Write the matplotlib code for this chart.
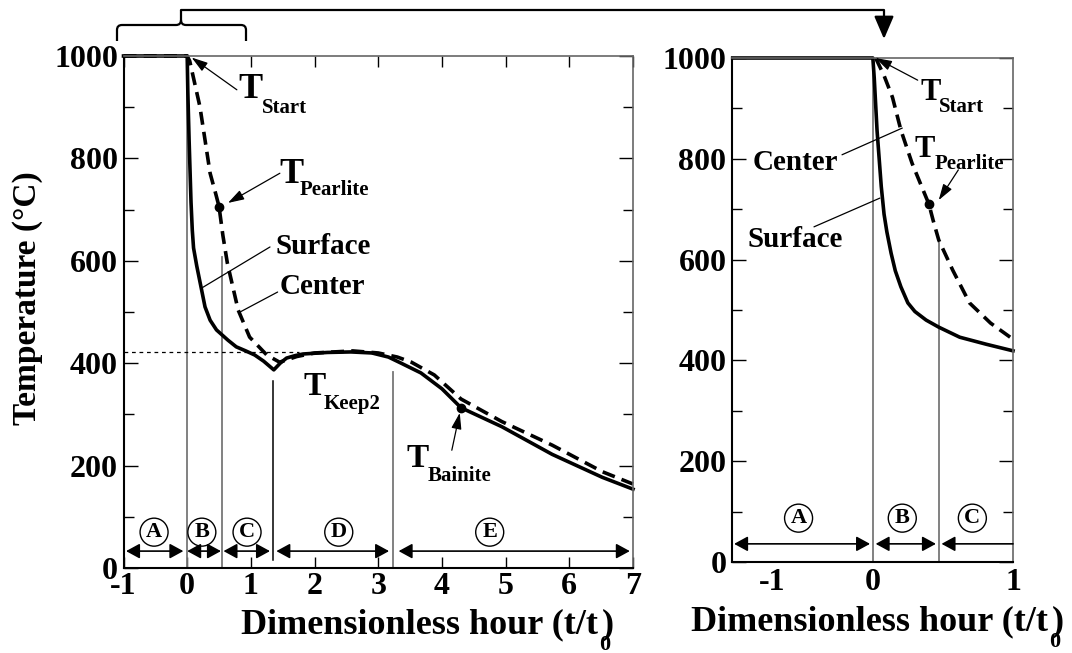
import matplotlib
matplotlib.use("Agg")
import matplotlib.pyplot as plt
from matplotlib.path import Path
from matplotlib.patches import FancyArrowPatch, PathPatch
from matplotlib.ticker import MultipleLocator

plt.rcParams["font.family"] = ["Liberation Serif", "DejaVu Serif"]
plt.rcParams["font.weight"] = "bold"
plt.rcParams["axes.labelweight"] = "bold"
plt.rcParams["axes.unicode_minus"] = False

# ---- left panel: whole schedule ----
full_t_surface = [-1, 0, 0.01, 0.03, 0.06, 0.08, 0.1, 0.15, 0.22, 0.28, 0.36, 0.46, 0.64,
                  0.77, 0.92, 1.06, 1.2, 1.36, 1.46, 1.56, 1.7, 1.82, 2.2, 2.57, 2.9,
                  3.16, 3.36, 3.67, 4.0, 4.3, 4.94, 5.73, 6.52, 7.0]
full_T_surface = [1000, 1000, 930, 836, 715, 660, 625, 590, 547, 510, 484, 465, 445,
                  432, 424, 416, 404, 387, 400, 410, 415, 418, 421, 422, 420,
                  412, 400, 381, 350, 313, 276, 222, 177, 154]
full_t_center = [-1, 0, 0.04, 0.2, 0.36, 0.45, 0.5, 0.56, 0.63, 0.8, 0.98, 1.25, 1.45,
                 1.6, 1.72, 2.0, 2.6, 3.0, 3.3, 3.52, 3.88, 4.3, 4.94, 5.73, 6.52, 7.0]
full_T_center = [1000, 1000, 990, 901, 771, 730, 706, 650, 596, 504, 451, 416, 402,
                 408, 413, 420, 424, 420, 412, 402, 377, 330, 286, 240, 188, 164]
keep_T = 422
keep_line_end = 1.75
full_bounds = [0.545, 1.35, 3.23]
full_bound_low = [0, 15, 0]
full_bound_high = [608, 365, 383]
full_stages = ["A", "B", "C", "D", "E"]
full_stage_x = [-0.52, 0.23, 0.94, 2.38, 4.75]
full_stage_from = [-0.96, 0.0, 0.57, 1.4, 3.32]
full_stage_to = [-0.06, 0.53, 1.3, 3.17, 6.95]
pearlite_pt = (0.5, 706)
bainite_pt = (4.3, 312)

# ---- right panel: close-up of the start ----
zoom_t_surface = [-1, 0, 0.01, 0.03, 0.06, 0.08, 0.1, 0.13, 0.16, 0.2, 0.25, 0.3, 0.38,
                  0.47, 0.62, 0.81, 1.0]
zoom_T_surface = [1000, 1000, 960, 856, 745, 690, 655, 613, 578, 546, 514, 497, 480,
                  466, 446, 432, 419]
zoom_t_center = [0.02, 0.08, 0.14, 0.2, 0.28, 0.4, 0.43, 0.47, 0.57, 0.69, 0.84, 1.0]
zoom_T_center = [1000, 965, 922, 857, 791, 710, 678, 639, 579, 514, 474, 442]
zoom_bound = 0.47
zoom_bound_high = 633
zoom_stages = ["A", "B", "C"]
zoom_stage_x = [-0.53, 0.21, 0.71]
zoom_stage_from = [-0.99, 0.02, 0.49]
zoom_stage_to = [-0.02, 0.45, 1.0]
zoom_pearlite_pt = (0.4, 710)
zoom_xticks = [-0.72, 0, 1]
zoom_xticklabels = ["-1", "0", "1"]

W, H = 1072, 653
fig = plt.figure(figsize=(W / 100, H / 100), dpi=100)
ax = fig.add_axes([123.5 / W, 1 - 568 / H, 509.5 / W, 512 / H])
ax2 = fig.add_axes([732 / W, 1 - 562 / H, 281 / W, 504 / H])

DASH = (3.6, 2.0)
TICK_SIZE = 23


def style_axes(a):
    for side in ["left", "bottom"]:
        a.spines[side].set_linewidth(1.5)
    for side in ["top", "right"]:
        a.spines[side].set_linewidth(1.2)
        a.spines[side].set_color("#666666")
    a.set_ylim(0, 1000)
    a.yaxis.set_major_locator(MultipleLocator(200))
    a.yaxis.set_minor_locator(MultipleLocator(100))
    a.tick_params(axis="y", which="major", direction="in", length=10, width=1,
                  left=True, right=True, labelsize=TICK_SIZE, pad=4)
    a.tick_params(axis="y", which="minor", direction="in", length=7, width=1,
                  left=True, right=True)


def t_label(a, x, y, sub, size=26, sub_size=15, dx=17, dy=-10):
    a.text(x, y, "T", fontsize=size, ha="left", va="baseline")
    a.annotate(sub, xy=(x, y), xytext=(dx, dy), textcoords="offset points",
               fontsize=sub_size, ha="left", va="baseline")


def pointer(a, start, end, head=True):
    style = "-|>,head_length=0.7,head_width=0.22" if head else "-"
    a.annotate("", xy=end, xytext=start,
               arrowprops=dict(arrowstyle=style, lw=0.9, color="black",
                               mutation_scale=14, shrinkA=0, shrinkB=0))


def stages(a, names, xs, x0s, x1s, y_text=70, y_arrow=33, open_end=False):
    for i, (n, x, x0, x1) in enumerate(zip(names, xs, x0s, x1s)):
        a.text(x, y_text, n, fontsize=16, ha="center", va="center",
               bbox=dict(boxstyle="circle,pad=0.18", fc="white", ec="black", lw=1.0))
        style = "<|-|>,head_length=0.55,head_width=0.3"
        if open_end and i == len(names) - 1:
            style = "<|-,head_length=0.55,head_width=0.3"
        a.annotate("", xy=(x1, y_arrow), xytext=(x0, y_arrow),
                   arrowprops=dict(arrowstyle=style, lw=1.2, color="black",
                                   mutation_scale=15, shrinkA=0, shrinkB=0))


def hour_label(x_end, y_base, size=26):
    # "t/t" with a deep subscript 0 under the closing bracket
    fig.text(x_end / W, 1 - y_base / H, "Dimensionless hour (t/t", fontsize=size,
             ha="right", va="baseline")
    fig.text((x_end + 1) / W, 1 - (y_base + 17) / H, "0", fontsize=16,
             ha="left", va="baseline")
    fig.text((x_end + 4) / W, 1 - y_base / H, ")", fontsize=size,
             ha="left", va="baseline")


# ---------------- left panel ----------------
style_axes(ax)
ax.set_xlim(-1, 7)
ax.xaxis.set_major_locator(MultipleLocator(1))
ax.tick_params(axis="x", which="major", direction="in", length=8, width=1,
               top=True, bottom=True, labelsize=TICK_SIZE, pad=3)

ax.axvline(0, color="#777777", lw=1.3)
for bx, lo, hi in zip(full_bounds, full_bound_low, full_bound_high):
    c = "black" if bx == 1.35 else "#777777"
    ax.plot([bx, bx], [lo, hi], color=c, lw=1.1 if c == "black" else 1.3)
ax.plot([-1, keep_line_end], [keep_T, keep_T], color="black", lw=0.9, dashes=(3, 3))

ax.plot(full_t_surface, full_T_surface, color="black", lw=2.6, clip_on=False,
        solid_joinstyle="round")
ax.plot(full_t_center, full_T_center, color="black", lw=2.6, dashes=DASH, clip_on=False)
ax.plot(*pearlite_pt, "o", color="black", ms=6)
ax.plot(*bainite_pt, "o", color="black", ms=6)

t_label(ax, 0.80, 918, "Start", dx=17, dy=-11)
pointer(ax, (0.78, 934), (0.07, 997))
t_label(ax, 1.455, 752, "Pearlite", dx=14, dy=-9)
pointer(ax, (1.455, 771), (0.64, 713))
ax.text(1.39, 627, "Surface", fontsize=21, ha="left", va="center")
pointer(ax, (1.30, 627), (0.23, 547), head=False)
ax.text(1.455, 549, "Center", fontsize=21, ha="left", va="center")
pointer(ax, (1.42, 539), (0.83, 500), head=False)
t_label(ax, 1.82, 338, "Keep2", size=24, dx=15, dy=-10)
t_label(ax, 3.45, 197, "Bainite", size=24, dx=15, dy=-10)
pointer(ax, (4.155, 230), (4.28, 303))

stages(ax, full_stages, full_stage_x, full_stage_from, full_stage_to)

ax.set_ylabel("Temperature (°C)", fontsize=24)
ax.yaxis.set_label_coords(-0.158, 0.527)
hour_label(598, 633)

# ---------------- right panel ----------------
style_axes(ax2)
ax2.set_xlim(-1.005, 1.0)
ax2.set_xticks(zoom_xticks)
ax2.set_xticklabels(zoom_xticklabels)
ax2.tick_params(axis="x", length=0, labelsize=TICK_SIZE, pad=4)

ax2.axvline(0, color="#777777", lw=1.3)
ax2.plot([zoom_bound, zoom_bound], [0, zoom_bound_high], color="#777777", lw=1.3)
ax2.plot(zoom_t_surface, zoom_T_surface, color="black", lw=2.6, clip_on=False,
         solid_joinstyle="round")
ax2.plot(zoom_t_center, zoom_T_center, color="black", lw=2.6, dashes=DASH, clip_on=False)
ax2.plot(*zoom_pearlite_pt, "o", color="black", ms=6)

t_label(ax2, 0.34, 917, "Start", size=22, sub_size=15, dx=13, dy=-9)
pointer(ax2, (0.32, 956), (0.02, 1000))
t_label(ax2, 0.30, 804, "Pearlite", size=22, sub_size=15, dx=14, dy=-9)
pointer(ax2, (0.61, 778), (0.47, 718))
ax2.text(-0.86, 792, "Center", fontsize=21, ha="left", va="center")
pointer(ax2, (-0.22, 808), (0.21, 861), head=False)
ax2.text(-0.895, 639, "Surface", fontsize=21, ha="left", va="center")
pointer(ax2, (-0.42, 665), (0.05, 722), head=False)

stages(ax2, zoom_stages, zoom_stage_x, zoom_stage_from, zoom_stage_to,
       y_text=87, y_arrow=36, open_end=True)
hour_label(1048, 630)


# ---------------- brace + link arrow on top ----------------
def px(x, y):
    return (x / W, 1 - y / H)


brace = Path(
    [px(117, 41), px(117, 30), px(117, 25), px(122, 25), px(176, 25), px(181, 25),
     px(181, 20), px(181, 10), px(181, 20), px(181, 25), px(186, 25), px(241, 25),
     px(246, 25), px(246, 30), px(246, 41)],
    [Path.MOVETO, Path.LINETO, Path.CURVE3, Path.CURVE3, Path.LINETO, Path.CURVE3,
     Path.CURVE3, Path.LINETO, Path.MOVETO, Path.CURVE3, Path.CURVE3, Path.LINETO,
     Path.CURVE3, Path.CURVE3, Path.LINETO],
)
fig.add_artist(PathPatch(brace, transform=fig.transFigure, fill=False, lw=1.6,
                         ec="black"))
link = Path([px(181, 10), px(884, 10), px(884, 39)],
            [Path.MOVETO, Path.LINETO, Path.LINETO])
fig.add_artist(FancyArrowPatch(path=link, transform=fig.transFigure,
                               arrowstyle="-|>,head_length=0.7,head_width=0.3",
                               mutation_scale=20, lw=1.6, color="black"))

fig.savefig("out.png", dpi=100)
